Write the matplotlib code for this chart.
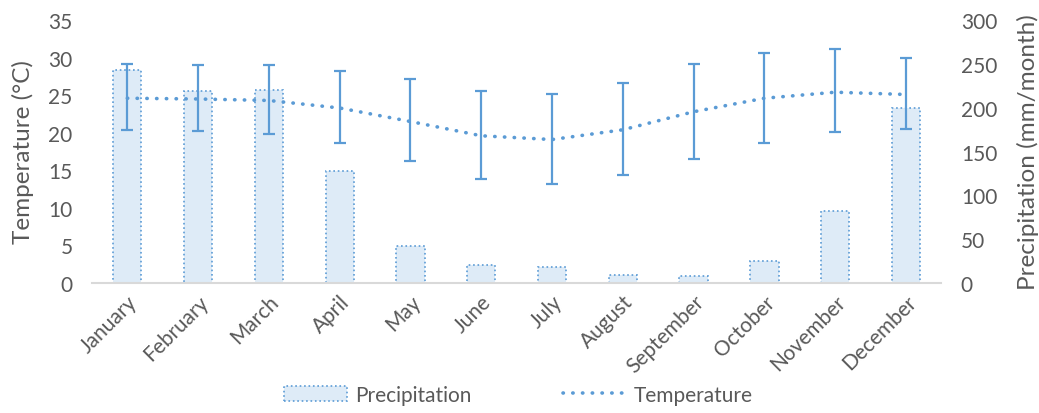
import matplotlib
matplotlib.use('Agg')
import matplotlib.pyplot as plt
import numpy as np

plt.rcParams['font.family'] = ['Lato', 'DejaVu Sans']

months = ['January', 'February', 'March', 'April', 'May', 'June', 'July',
          'August', 'September', 'October', 'November', 'December']
temp = [24.6, 24.5, 24.3, 23.3, 21.5, 19.6, 19.1, 20.4, 22.8, 24.6, 25.4, 25.1]
temp_high = [29.2, 29.0, 29.0, 28.2, 27.1, 25.6, 25.1, 26.6, 29.2, 30.6, 31.2, 29.9]
temp_low = [20.4, 20.3, 19.9, 18.6, 16.2, 13.8, 13.2, 14.4, 16.5, 18.6, 20.1, 20.5]
precip = [243, 219, 220, 128, 42, 20, 18, 9, 8, 25, 82, 200]

blue = '#5b9bd5'
fill = '#deebf7'
grey = '#595959'

fig = plt.figure(figsize=(10.39, 4.14), dpi=100)
ax = fig.add_axes([0.0885, 0.314, 0.8175, 0.635])
ax2 = ax.twinx()

x = np.arange(len(months))

# precipitation bars on the right axis
bars = ax2.bar(x, precip, width=0.4, color=fill, edgecolor=blue,
               linewidth=1.2, linestyle=':', label='Precipitation')
ax2.set_ylim(0, 300)
ax2.set_yticks(range(0, 301, 50))

# temperature line with min/max error bars on the left axis
t = np.array(temp)
yerr = [t - np.array(temp_low), np.array(temp_high) - t]
line, = ax.plot(x, temp, color=blue, linewidth=2.6,
                linestyle=(0, (0.1, 2.6)), dash_capstyle='round',
                label='Temperature')
ax.errorbar(x, temp, yerr=yerr, fmt='none', ecolor=blue, elinewidth=1.6,
            capsize=4.5, capthick=1.6)
ax.set_ylim(0, 35)
ax.set_yticks(range(0, 36, 5))
ax.set_xlim(-0.5, len(months) - 0.5)
ax.set_zorder(ax2.get_zorder() + 1)
ax.patch.set_visible(False)

ax.set_xticks(x)
ax.set_xticklabels(months, rotation=45, ha='right', rotation_mode='anchor')

ax.set_ylabel('Temperature (°C)', fontsize=17.5, color=grey, labelpad=10)
ax2.set_ylabel('Precipitation (mm/month)', fontsize=17.5, color=grey, labelpad=14)

for a in (ax, ax2):
    for s in a.spines.values():
        s.set_visible(False)
    a.tick_params(length=0, labelsize=15, labelcolor=grey)
ax.spines['bottom'].set_visible(True)
ax.spines['bottom'].set_color('#d9d9d9')
ax.spines['bottom'].set_linewidth(1.5)
ax.tick_params(axis='y', pad=14)
ax2.tick_params(axis='y', pad=14)
ax.tick_params(axis='x', pad=6)

fig.legend([bars, line], ['Precipitation', 'Temperature'], loc='lower center',
           bbox_to_anchor=(0.499, -0.025), ncol=2, frameon=False, fontsize=15,
           labelcolor=grey, columnspacing=4.4, handlelength=3.0,
           handletextpad=0.4)

fig.savefig('out.png', dpi=100)
